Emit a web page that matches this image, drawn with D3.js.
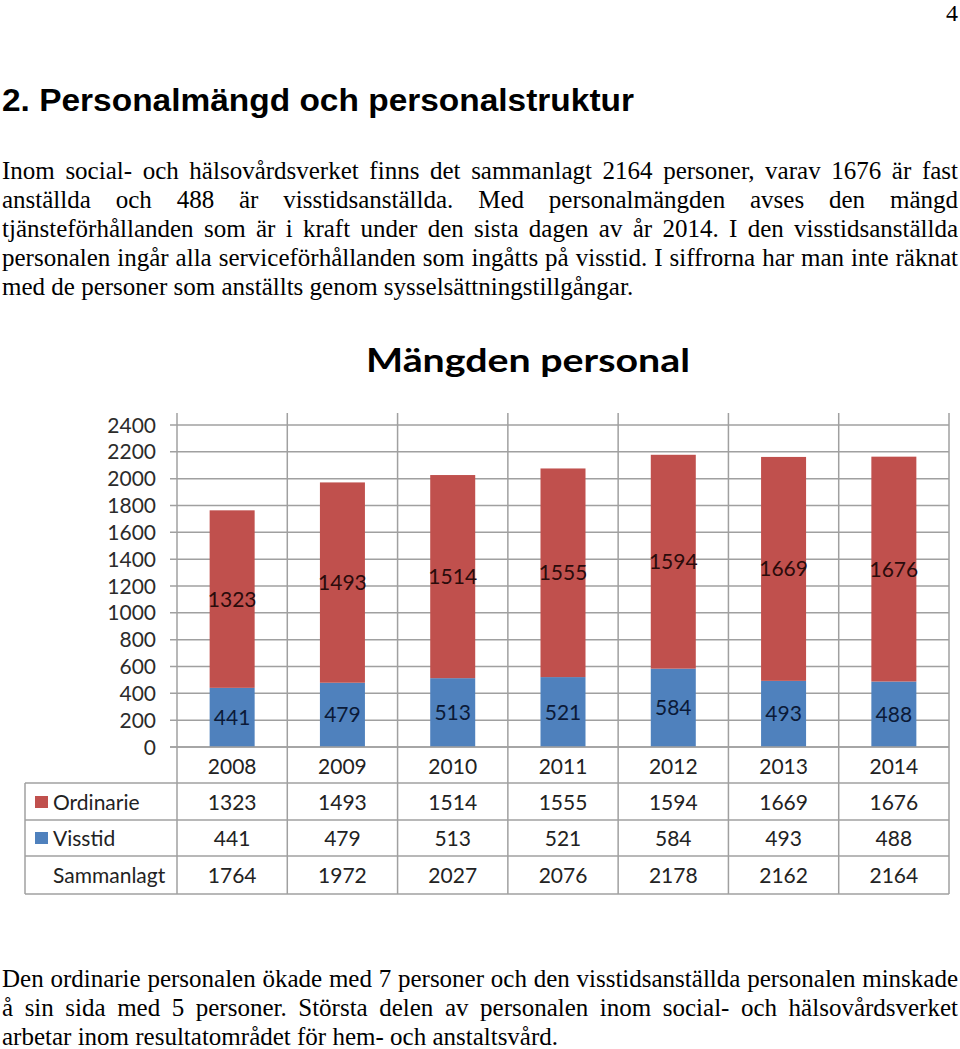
<!DOCTYPE html>
<html><head><meta charset="utf-8">
<script src="https://cdn.jsdelivr.net/npm/d3@7"></script>
<style>body{margin:0;background:#fff}svg{display:block}</style>
</head><body><svg id="c" width="960" height="1049"></svg>
<script>
const pageNumber = "4";
const heading = "2. Personalmängd och personalstruktur";
const para1 = [
  "Inom social- och hälsovårdsverket finns det sammanlagt 2164 personer, varav 1676 är fast",
  "anställda och 488 är visstidsanställda. Med personalmängden avses den mängd",
  "tjänsteförhållanden som är i kraft under den sista dagen av år 2014. I den visstidsanställda",
  "personalen ingår alla serviceförhållanden som ingåtts på visstid. I siffrorna har man inte räknat",
  "med de personer som anställts genom sysselsättningstillgångar."
];
const para2 = [
  "Den ordinarie personalen ökade med 7 personer och den visstidsanställda personalen minskade",
  "å sin sida med 5 personer. Största delen av personalen inom social- och hälsovårdsverket",
  "arbetar inom resultatområdet för hem- och anstaltsvård."
];
const chartTitle = "Mängden personal";
const years = ["2008","2009","2010","2011","2012","2013","2014"];
const ordinarie = [1323,1493,1514,1555,1594,1669,1676];
const visstid = [441,479,513,521,584,493,488];
const sammanlagt = [1764,1972,2027,2076,2178,2162,2164];
const seriesNames = ["Ordinarie","Visstid"];
const totalLabel = "Sammanlagt";
const yTicks = [0,200,400,600,800,1000,1200,1400,1600,1800,2000,2200,2400];

const svg = d3.select("#c");
const serif = "'Liberation Serif','Times New Roman',serif";
const sans = "Lato,'Open Sans',sans-serif";

svg.append("text").attr("x",958).attr("y",21).attr("text-anchor","end")
  .attr("font-family",serif).attr("font-size",24).attr("fill","#000").text(pageNumber);

svg.append("text").attr("x",2).attr("y",111)
  .attr("font-family","'Liberation Sans',Arial,sans-serif").attr("font-weight","bold")
  .attr("font-size",32).attr("fill","#000").text(heading)
  .attr("textLength",632).attr("lengthAdjust","spacingAndGlyphs");

function paragraph(lines, y0, step){
  lines.forEach((ln,i)=>{
    const t = svg.append("text").attr("x",2).attr("y",y0+i*step)
      .attr("font-family",serif).attr("font-size",25).attr("fill","#000").text(ln);
    const w = t.node().getComputedTextLength();
    const last = i===lines.length-1;
    if(!last){
      const n = (ln.match(/ /g)||[]).length;
      const extra = 956 - w;
      if(extra>=0) t.style("word-spacing",(extra/n)+"px");
      else t.attr("textLength",956).attr("lengthAdjust","spacingAndGlyphs");
    }
  });
}
paragraph(para1,179,29);
paragraph(para2,987,29);

svg.append("text").attr("x",528).attr("y",372).attr("text-anchor","middle")
  .attr("font-family",sans).attr("font-weight","bold").attr("font-size",33)
  .attr("fill","#000").text(chartTitle)
  .attr("textLength",324).attr("lengthAdjust","spacingAndGlyphs");

const gLeft=177, gRight=949, gTop=413, gBottom=894;
const x = d3.scaleBand().domain(years).range([gLeft,gRight]).paddingInner(0).paddingOuter(0);
const y = d3.scaleLinear().domain([0,2400]).range([747,425]);
const grid = "#a0a0a0";

const g = svg.append("g");
g.selectAll("line.h").data(yTicks).join("line")
  .attr("x1",170).attr("x2",gRight).attr("y1",d=>y(d)).attr("y2",d=>y(d))
  .attr("stroke",grid).attr("stroke-width",1.5);
g.selectAll("text.yt").data(yTicks).join("text")
  .attr("x",156).attr("y",d=>y(d)).attr("dy","0.36em").attr("text-anchor","end")
  .attr("font-family",sans).attr("font-size",21).attr("fill","#2b2b2b").text(d=>d);

const vx = years.map(yr=>x(yr)).concat([gRight]);
g.selectAll("line.v").data(vx).join("line")
  .attr("x1",d=>d).attr("x2",d=>d).attr("y1",gTop).attr("y2",gBottom)
  .attr("stroke",grid).attr("stroke-width",1.5);

const rowLines = [783,820,856,894];
g.selectAll("line.r").data(rowLines).join("line")
  .attr("x1",25).attr("x2",gRight).attr("y1",d=>d).attr("y2",d=>d)
  .attr("stroke",grid).attr("stroke-width",1.5);
g.append("line").attr("x1",25).attr("x2",25).attr("y1",783).attr("y2",894)
  .attr("stroke",grid).attr("stroke-width",1.5);

const rows = years.map((yr,i)=>({year:yr, Ordinarie:ordinarie[i], Visstid:visstid[i]}));
const stack = d3.stack().keys(["Visstid","Ordinarie"])(rows);
const colors = {Ordinarie:"#C0504D", Visstid:"#4F81BD"};
const labelColors = {Ordinarie:"#2a0b0b", Visstid:"#0b1a38"};
const bw = 45;
stack.forEach(s=>{
  const key = s.key;
  g.selectAll("rect."+key).data(s).join("rect")
    .attr("x",d=>x(d.data.year)+x.bandwidth()/2-bw/2)
    .attr("width",bw)
    .attr("y",d=>y(d[1])).attr("height",d=>y(d[0])-y(d[1]))
    .attr("fill",colors[key]);
  g.selectAll("text.l"+key).data(s).join("text")
    .attr("x",d=>x(d.data.year)+x.bandwidth()/2)
    .attr("y",d=>(y(d[0])+y(d[1]))/2).attr("dy","0.36em")
    .attr("text-anchor","middle").attr("font-family",sans).attr("font-size",21)
    .attr("fill",labelColors[key]).text(d=>d.data[key]);
});
g.append("line").attr("x1",170).attr("x2",gRight).attr("y1",y(0)).attr("y2",y(0))
  .attr("stroke",grid).attr("stroke-width",1.5);

const tableRows = [
  {label:null, vals:years, cy:766},
  {label:seriesNames[0], vals:ordinarie, cy:802, color:colors.Ordinarie},
  {label:seriesNames[1], vals:visstid, cy:838, color:colors.Visstid},
  {label:totalLabel, vals:sammanlagt, cy:875}
];
tableRows.forEach(r=>{
  g.selectAll(null).data(r.vals).join("text")
    .attr("x",(d,i)=>x(years[i])+x.bandwidth()/2).attr("y",r.cy).attr("dy","0.36em")
    .attr("text-anchor","middle").attr("font-family",sans).attr("font-size",21)
    .attr("fill","#222").text(d=>d);
  if(r.label){
    g.append("text").attr("x",53).attr("y",r.cy).attr("dy","0.36em")
      .attr("font-family",sans).attr("font-size",21).attr("fill","#222").text(r.label);
    if(r.color){
      g.append("rect").attr("x",35).attr("y",r.cy-6).attr("width",13).attr("height",12)
        .attr("fill",r.color);
    }
  }
});
</script></body></html>
